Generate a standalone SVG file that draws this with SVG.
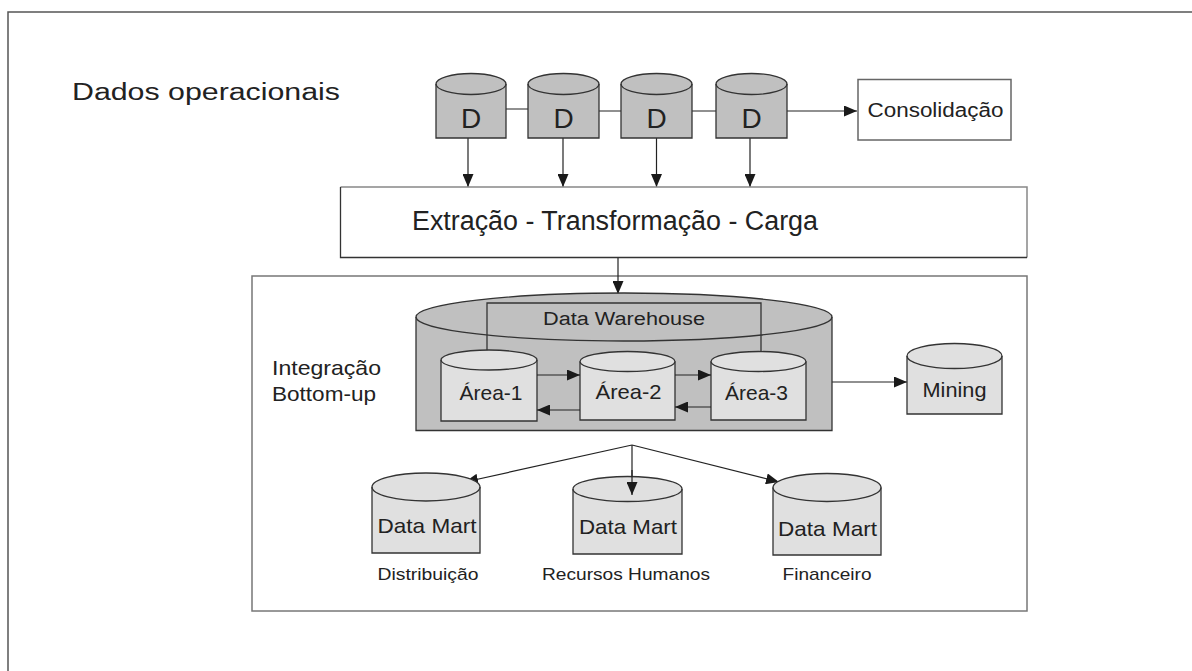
<svg xmlns="http://www.w3.org/2000/svg" width="1192" height="671" viewBox="0 0 1192 671">
<style>
text{font-family:"Liberation Sans",Arial,sans-serif;fill:#222;}
.cylD{fill:#c0c0c0;stroke:#333;stroke-width:1.3;}
.cylL{fill:#e0e0e0;stroke:#333;stroke-width:1.3;}
.edge{fill:none;stroke:#333;stroke-width:1.3;}
.frame{fill:none;stroke:#777;stroke-width:1.5;}
.conn{fill:none;stroke:#222;stroke-width:1.2;}
.mid{text-anchor:middle;}
</style>
<defs>
<marker id="ah" markerUnits="userSpaceOnUse" markerWidth="13" markerHeight="11" refX="13" refY="5.5" orient="auto" viewBox="0 0 13 11">
<path d="M0,0 L13,5.5 L0,11 z" fill="#1a1a1a"/>
</marker>
</defs>
<rect width="1192" height="671" fill="#fff"/>
<g id="outer-frame">
<path d="M8,671 V12 H1192" fill="none" stroke="#555" stroke-width="1.5"/>
</g>
<g id="lower-frame">
<rect x="252" y="276" width="775" height="335" class="frame"/>
</g>
<g id="title">
<text x="72" y="100" font-size="23" textLength="268" lengthAdjust="spacingAndGlyphs">Dados operacionais</text>
</g>
<g id="connectors">
<path class="conn" d="M506,109 H528 M599,111 H621 M692,111 H716"/>
<path class="conn" d="M787,111 H857" marker-end="url(#ah)"/>
<path class="conn" d="M468,138 V187" marker-end="url(#ah)"/>
<path class="conn" d="M563,138 V187" marker-end="url(#ah)"/>
<path class="conn" d="M656.5,138 V187" marker-end="url(#ah)"/>
<path class="conn" d="M750,138 V187" marker-end="url(#ah)"/>
<path class="conn" d="M618,258 V294" marker-end="url(#ah)"/>
<path class="conn" d="M832,382 H907" marker-end="url(#ah)"/>
<path class="conn" d="M632,445 L465,482" marker-end="url(#ah)"/>
<path class="conn" d="M632,445 V495" marker-end="url(#ah)"/>
<path class="conn" d="M632,445 L779,482" marker-end="url(#ah)"/>
</g>
<g id="d1">
<path class="cylD" d="M436,84 A35,10.5 0 0 1 506,84 V138 H436 Z"/>
<path class="edge" d="M436,84 A35,10.5 0 0 0 506,84"/>
<text x="471" y="128" font-size="28" class="mid">D</text>
</g>
<g id="d2">
<path class="cylD" d="M528,84 A35.5,10.5 0 0 1 599,84 V138 H528 Z"/>
<path class="edge" d="M528,84 A35.5,10.5 0 0 0 599,84"/>
<text x="563.5" y="128" font-size="28" class="mid">D</text>
</g>
<g id="d3">
<path class="cylD" d="M621,84 A35.5,10.5 0 0 1 692,84 V138 H621 Z"/>
<path class="edge" d="M621,84 A35.5,10.5 0 0 0 692,84"/>
<text x="656.5" y="128" font-size="28" class="mid">D</text>
</g>
<g id="d4">
<path class="cylD" d="M716,84 A35.5,10.5 0 0 1 787,84 V138 H716 Z"/>
<path class="edge" d="M716,84 A35.5,10.5 0 0 0 787,84"/>
<text x="751.5" y="128" font-size="28" class="mid">D</text>
</g>
<g id="consolidacao">
<rect x="858" y="79.5" width="153" height="60.5" fill="#fff" stroke="#666" stroke-width="1.5"/>
<text x="935.5" y="116.5" font-size="20" class="mid" textLength="136" lengthAdjust="spacingAndGlyphs">Consolidação</text>
</g>
<g id="etl">
<path d="M340.5,187 H1027 V257.5" stroke="#888" stroke-width="1.5" fill="none"/>
<path d="M340.5,187 V257.5 H1027" stroke="#333" stroke-width="1.3" fill="none"/>
<text x="615" y="230" font-size="27" class="mid" textLength="406" lengthAdjust="spacingAndGlyphs">Extração - Transformação - Carga</text>
</g>
<g id="data-warehouse">
<path class="cylD" d="M416,317 A208,24 0 0 1 832,317 V430.5 H416 Z"/>
<path class="edge" d="M416,317 A208,24 0 0 0 832,317"/>
<path class="edge" d="M487,352 V303 H761 V352"/>
<text x="624" y="325" font-size="18" class="mid" textLength="162" lengthAdjust="spacingAndGlyphs">Data Warehouse</text>
</g>
<g id="integracao">
<text x="272" y="375" font-size="21" textLength="109" lengthAdjust="spacingAndGlyphs">Integração</text>
<text x="272" y="400.5" font-size="21" textLength="104" lengthAdjust="spacingAndGlyphs">Bottom-up</text>
</g>
<g id="area-1">
<path class="cylL" d="M441,360 A48,10 0 0 1 537,360 V421 H441 Z"/>
<path class="edge" d="M441,360 A48,10 0 0 0 537,360"/>
<text x="491" y="400" font-size="21" class="mid" textLength="63" lengthAdjust="spacingAndGlyphs">Área-1</text>
</g>
<g id="area-2">
<path class="cylL" d="M580,361.5 A47.5,10 0 0 1 675,361.5 V420 H580 Z"/>
<path class="edge" d="M580,361.5 A47.5,10 0 0 0 675,361.5"/>
<text x="628.5" y="399" font-size="21" class="mid" textLength="66" lengthAdjust="spacingAndGlyphs">Área-2</text>
</g>
<g id="area-3">
<path class="cylL" d="M711,361.5 A47.5,10 0 0 1 806,361.5 V420 H711 Z"/>
<path class="edge" d="M711,361.5 A47.5,10 0 0 0 806,361.5"/>
<text x="756.5" y="400" font-size="21" class="mid" textLength="63" lengthAdjust="spacingAndGlyphs">Área-3</text>
</g>
<g id="area-connectors">
<path class="conn" d="M537,375 H580" marker-end="url(#ah)"/>
<path class="conn" d="M580,410 H537" marker-end="url(#ah)"/>
<path class="conn" d="M675,375 H711" marker-end="url(#ah)"/>
<path class="conn" d="M711,407 H675" marker-end="url(#ah)"/>
</g>
<g id="mining">
<path class="cylL" d="M907,356 A47.5,12.5 0 0 1 1002,356 V414 H907 Z"/>
<path class="edge" d="M907,356 A47.5,12.5 0 0 0 1002,356"/>
<text x="954.5" y="396.5" font-size="21" class="mid" textLength="64" lengthAdjust="spacingAndGlyphs">Mining</text>
</g>
<g id="dm-distribuicao">
<path class="cylL" d="M372,487 A54,14 0 0 1 480,487 V553 H372 Z"/>
<path class="edge" d="M372,487 A54,14 0 0 0 480,487"/>
<text x="427" y="533" font-size="21" class="mid" textLength="99" lengthAdjust="spacingAndGlyphs">Data Mart</text>
<text x="428" y="579.5" font-size="17" class="mid" textLength="101" lengthAdjust="spacingAndGlyphs">Distribuição</text>
</g>
<g id="dm-rh">
<path class="cylL" d="M573,489 A54.5,12.5 0 0 1 682,489 V554 H573 Z"/>
<path class="edge" d="M573,489 A54.5,12.5 0 0 0 682,489"/>
<text x="628" y="534" font-size="21" class="mid" textLength="98" lengthAdjust="spacingAndGlyphs">Data Mart</text>
<text x="626" y="579.5" font-size="17" class="mid" textLength="168" lengthAdjust="spacingAndGlyphs">Recursos Humanos</text>
</g>
<g id="dm-financeiro">
<path class="cylL" d="M773,487.5 A54,14 0 0 1 881,487.5 V555 H773 Z"/>
<path class="edge" d="M773,487.5 A54,14 0 0 0 881,487.5"/>
<text x="827.5" y="536" font-size="21" class="mid" textLength="99" lengthAdjust="spacingAndGlyphs">Data Mart</text>
<text x="827" y="580" font-size="17" class="mid" textLength="89" lengthAdjust="spacingAndGlyphs">Financeiro</text>
</g>
<g id="dm-arrows-overlay">
<path class="conn" d="M632,470 V495" marker-end="url(#ah)"/>
</g>
</svg>
